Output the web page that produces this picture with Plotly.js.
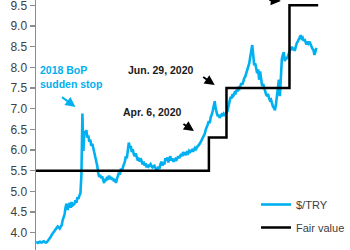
<!DOCTYPE html>
<html>
<head>
<meta charset="utf-8">
<script src="https://cdn.plot.ly/plotly-3.0.1.min.js"></script>
<style>html,body{margin:0;padding:0;background:#fff}#chart{width:350px;height:250px}</style>
</head>
<body>
<div id="chart"></div>
<script>
const seriesStart = '2018-01-01';
const sampleStepDays = 4.717;
const usdTry = [
3.78,3.76,3.75,3.77,3.78,3.76,3.76,3.78,3.79,3.77,3.76,3.77,3.80,3.82,3.85,3.90,3.95,3.99,4.02,4.06,
4.10,4.12,4.15,4.12,4.10,4.14,4.18,4.30,4.38,4.45,4.62,4.70,4.55,4.68,4.72,4.60,4.74,4.66,4.68,4.70,
4.78,4.72,4.86,4.82,4.90,4.95,5.40,6.88,5.98,6.45,6.40,6.48,6.30,6.35,6.20,6.25,6.10,6.15,6.05,5.95,
5.80,5.70,5.62,5.45,5.35,5.40,5.32,5.36,5.28,5.20,5.30,5.25,5.35,5.28,5.38,5.30,5.35,5.28,5.32,5.24,
5.30,5.20,5.30,5.38,5.45,5.40,5.55,5.50,5.60,5.65,5.72,5.85,5.80,6.00,6.18,6.05,6.10,5.95,6.02,5.90,
5.85,5.92,5.80,5.75,5.78,5.72,5.80,5.70,5.65,5.72,5.62,5.68,5.58,5.64,5.60,5.63,5.66,5.60,5.58,5.61,
5.62,5.56,5.52,5.50,5.60,5.55,5.65,5.72,5.62,5.70,5.65,5.80,5.75,5.82,5.70,5.78,5.85,5.75,5.80,5.72,
5.76,5.78,5.74,5.82,5.85,5.80,5.88,5.90,5.85,5.95,5.90,5.92,5.88,5.94,5.92,5.98,5.95,5.97,6.00,5.96,
6.03,6.05,6.02,6.08,6.10,6.12,6.15,6.20,6.25,6.30,6.35,6.40,6.50,6.55,6.62,6.70,6.65,6.80,6.85,6.95,
7.05,7.18,7.00,6.88,6.82,6.85,6.78,6.82,6.86,6.84,6.88,6.85,6.87,6.90,6.95,7.05,7.15,7.28,7.25,7.35,
7.32,7.38,7.35,7.45,7.42,7.50,7.48,7.55,7.62,7.58,7.70,7.74,7.78,7.85,7.92,8.00,8.10,8.25,8.40,8.54,
8.30,8.05,8.10,7.95,7.86,7.95,7.70,7.90,7.65,7.55,7.60,7.50,7.38,7.35,7.30,7.36,7.25,7.20,7.22,7.12,
7.05,7.02,6.96,7.10,7.30,7.55,7.70,7.30,7.75,8.20,8.30,8.37,8.15,8.25,8.20,8.30,8.33,8.40,8.45,8.50,
8.42,8.48,8.40,8.52,8.58,8.62,8.66,8.72,8.78,8.70,8.72,8.64,8.68,8.60,8.55,8.62,8.58,8.62,8.55,8.50,
8.45,8.42,8.30,8.38,8.47
];

// Fair value (step line)
const fairDates = ['2018-01-01','2020-04-06','2020-06-29','2021-04-26','2021-09-10'];
const fairValues = [5.5, 6.3, 7.5, 9.5, 9.5];

const yTickVals = [3.5,4.0,4.5,5.0,5.5,6.0,6.5,7.0,7.5,8.0,8.5,9.0,9.5];
const yTickText = ['3.5','4.0','4.5','5.0','5.5','6.0','6.5','7.0','7.5','8.0','8.5','9.0','9.5'];

const startMs = Date.parse(seriesStart + 'T00:00:00Z');
const dayMs = 86400000;
const usdDates = usdTry.map((_, i) => new Date(startMs + i * sampleStepDays * dayMs).toISOString());

const BLUE = '#00B0F0';

const traces = [
  {x: usdDates, y: usdTry, type: 'scatter', mode: 'lines', name: '$/TRY', legendgroup: 'a',
   line: {color: BLUE, width: 2.6}, hoverinfo: 'skip'},
  {x: fairDates, y: fairValues, type: 'scatter', mode: 'lines', name: 'Fair value', legendgroup: 'b',
   line: {color: '#000000', width: 2.5, shape: 'hv'}, hoverinfo: 'skip'}
];

function px(x){ return (x - 36) / 314; }
function py(y){ return 1 - y / 250; }

const annFont = {family: 'Liberation Sans, Arial, sans-serif', size: 10.5, color: '#1a1a1a'};

const layout = {
  width: 350, height: 250,
  margin: {l: 36, r: 0, t: 0, b: 0, pad: 0},
  paper_bgcolor: '#ffffff', plot_bgcolor: '#ffffff',
  showlegend: true,
  legend: {x: px(259), y: py(190), xanchor: 'left', yanchor: 'top', tracegroupgap: 4,
           traceorder: 'grouped',
           font: {family: 'Liberation Sans, Arial, sans-serif', size: 11, color: '#404040'},
           bgcolor: 'rgba(0,0,0,0)', borderwidth: 0},
  xaxis: {type: 'date', range: ['2018-01-01', '2022-01-21'], visible: false, fixedrange: true},
  yaxis: {range: [3.58, 9.63], tickvals: yTickVals, ticktext: yTickText, ticklabeloverflow: 'allow',
          showgrid: false, zeroline: false, showline: true, linecolor: '#8C8C8C', linewidth: 1.5,
          ticks: 'outside', ticklen: 5, tickwidth: 1.2, tickcolor: '#8C8C8C',
          tickfont: {family: 'Liberation Sans, Arial, sans-serif', size: 12, color: '#404040'}},
  annotations: [
    {xref: 'paper', yref: 'paper', x: px(38), y: py(77), xanchor: 'left', yanchor: 'middle',
     text: '<b>2018 BoP<br>sudden stop</b>', align: 'left', showarrow: false,
     font: {family: 'Liberation Sans, Arial, sans-serif', size: 10.5, color: BLUE}},
    {xref: 'paper', yref: 'paper', x: px(127), y: py(70), xanchor: 'left', yanchor: 'middle',
     text: '<b>Jun. 29, 2020</b>', showarrow: false, font: annFont},
    {xref: 'paper', yref: 'paper', x: px(122), y: py(112), xanchor: 'left', yanchor: 'middle',
     text: '<b>Apr. 6, 2020</b>', showarrow: false, font: annFont},
    {xref: 'paper', yref: 'paper', x: px(76), y: py(107), text: '', showarrow: true,
     ax: -15, ay: -11, arrowhead: 2, arrowsize: 1, arrowwidth: 2, arrowcolor: BLUE},
    {xref: 'paper', yref: 'paper', x: px(217), y: py(85), text: '', showarrow: true,
     ax: -13, ay: -9, arrowhead: 2, arrowsize: 1, arrowwidth: 2, arrowcolor: '#000'},
    {xref: 'paper', yref: 'paper', x: px(196), y: py(131), text: '', showarrow: true,
     ax: -12, ay: -8, arrowhead: 2, arrowsize: 1, arrowwidth: 2, arrowcolor: '#000'},
    {xref: 'paper', yref: 'paper', x: px(284), y: py(1), text: '', showarrow: true,
     ax: -13, ay: -9, arrowhead: 2, arrowsize: 1, arrowwidth: 2, arrowcolor: '#000'}
  ]
};

Plotly.newPlot('chart', traces, layout, {staticPlot: true, displayModeBar: false});
</script>
</body>
</html>
